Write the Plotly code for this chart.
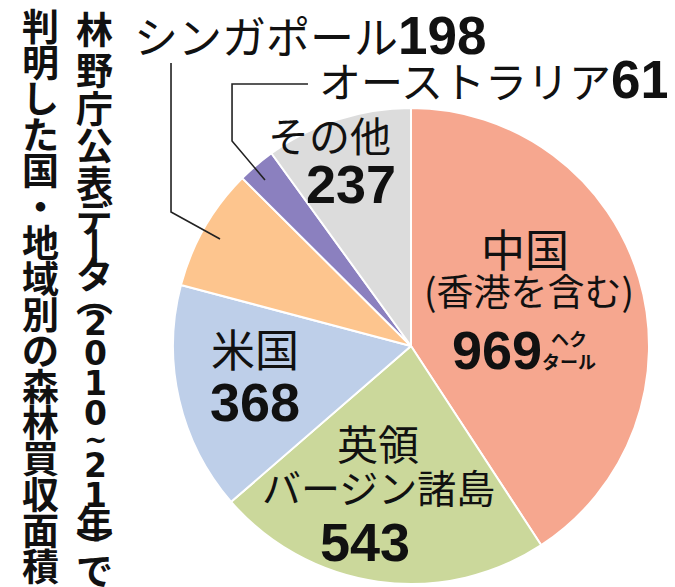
import plotly.graph_objects as go

# ============================================================
# データ(林野庁公表データ 2010〜21年、単位: ヘクタール)
# ============================================================
labels = ["中国(香港を含む)", "英領バージン諸島", "米国", "シンガポール", "オーストラリア", "その他"]
values = [969, 543, 368, 198, 61, 237]
colors = ["#F6A78F", "#CBD89B", "#BECFE9", "#FDC58E", "#8B80BF", "#DCDCDC"]

W, H = 675, 587
JP = "Noto Sans CJK JP"
NUM = "Liberation Sans"


def px(x, y):
    # ピクセル座標 -> paper座標
    return x / W, 1 - y / H


fig = go.Figure()
fig.add_trace(go.Pie(
    labels=labels, values=values, sort=False, direction="clockwise", rotation=0,
    marker=dict(colors=colors, line=dict(color="white", width=2)),
    textinfo="none", showlegend=False,
    domain=dict(x=[165 / W, 641 / W], y=[11 / H, 487 / H]),
))

ann = []


def txt(x, y, s, size, bold=False, font=JP, xa="center"):
    ax, ay = px(x, y)
    ann.append(dict(x=ax, y=ay, xref="paper", yref="paper", text=s, showarrow=False,
                    xanchor=xa, yanchor="middle",
                    font=dict(family=font, size=size, color="#111",
                              weight="bold" if bold else "normal")))


def num(s, size):
    return f"<span style='font-family:{NUM};font-weight:bold;font-size:{size}px'>{s}</span>"


# 外側のラベル
txt(124, 27, "シンガポール" + num(values[3], 53), 44, xa="left")
txt(664, 72, "オーストラリア" + num(values[4], 53), 42, xa="right")

# 扇形の中のラベル
txt(321, 126, "その他", 41)
txt(343, 176, str(values[5]), 54, True, NUM)
txt(517, 240, "中国", 44)
txt(521, 282, "(香港を含む)", 37)
txt(489, 342, str(values[0]), 54, True, NUM)
txt(561, 341, "ヘク<br>タール", 18, True)
txt(247, 340, "米国", 44)
txt(247, 394, str(values[2]), 54, True, NUM)
txt(370, 434, "英領", 41)
txt(370, 478, "バージン諸島", 39)
txt(357, 534, str(values[1]), 54, True, NUM)

# 縦書きタイトル
col_left = "判明した国・地域別の森林買収面積"
for i, ch in enumerate(col_left):
    txt(32, 17 + 36 * i, ch, 37, True)

col_right = ["林", "野", "庁", "公", "表", "デ", "丨", "タ", "︵", "2", "0", "1", "0", "~", "2", "1", "年", "︶", "で"]
right_y = [20, 61, 99, 136, 174, 208, 237, 265, 288, 312, 342, 372, 402, 428, 454, 484, 514, 538, 561]
for ch, yy in zip(col_right, right_y):
    if ch.isdigit():
        txt(87, yy + 3, ch, 33, True, "DejaVu Sans")
    elif ch == "~":
        txt(87, yy + 3, ch, 28, True, "DejaVu Sans")
    else:
        txt(86, yy, ch, 37, True)


def path(points):
    p = [px(x, y) for x, y in points]
    return "M " + " L ".join(f"{a:.4f},{b:.4f}" for a, b in p)


shapes = [
    dict(type="path", xref="paper", yref="paper",
         path=path([(163, 55), (163, 204), (212, 231)]),
         line=dict(color="#222", width=1.6)),
    dict(type="path", xref="paper", yref="paper",
         path=path([(300, 76), (224, 76), (224, 133), (257, 172)]),
         line=dict(color="#222", width=1.6)),
]

fig.update_layout(
    width=W, height=H, margin=dict(l=0, r=0, t=0, b=0),
    paper_bgcolor="white", plot_bgcolor="white",
    annotations=ann, shapes=shapes,
)
fig.write_html("out.html")
